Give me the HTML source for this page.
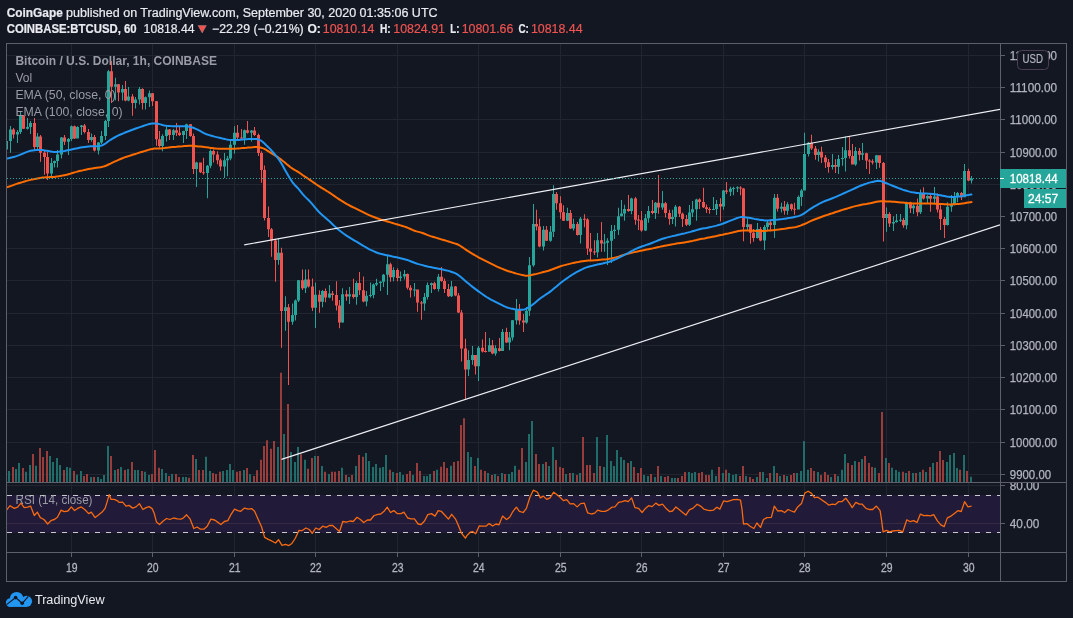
<!DOCTYPE html>
<html><head><meta charset="utf-8"><title>BTCUSD chart</title>
<style>html,body{margin:0;padding:0;background:#131722;width:1073px;height:618px;overflow:hidden}svg text{white-space:pre}</style>
</head><body>
<svg width="1073" height="618" viewBox="0 0 1073 618" style="display:block"><defs><clipPath id="main"><rect x="7" y="44" width="993" height="438"/></clipPath><clipPath id="rsip"><rect x="7" y="483" width="993" height="69"/></clipPath><clipPath id="rsiax"><rect x="1001" y="483" width="65" height="69"/></clipPath><clipPath id="mainax"><rect x="1001" y="44" width="65" height="438"/></clipPath></defs><rect width="1073" height="618" fill="#131722"/><path d="M7 474.5H1000 M7 442.5H1000 M7 409.5H1000 M7 377.5H1000 M7 345.5H1000 M7 313.5H1000 M7 280.5H1000 M7 248.5H1000 M7 216.5H1000 M7 184.5H1000 M7 152.5H1000 M7 119.5H1000 M7 87.5H1000 M7 55.5H1000 M71.5 44V552 M152.5 44V552 M234.5 44V552 M315.5 44V552 M397.5 44V552 M478.5 44V552 M560.5 44V552 M641.5 44V552 M723.5 44V552 M804.5 44V552 M886.5 44V552 M968.5 44V552 M7 485.5H1000 M7 523.5H1000" stroke="#21252f" stroke-width="1" fill="none"/><rect x="7" y="495" width="993" height="38" fill="#211a38"/><path d="M7 523.5H1000" stroke="#3a2a40" stroke-width="1"/><path d="M7 495.5H1000M7 532.5H1000" stroke="#c8cad0" stroke-width="1" stroke-dasharray="5 6" fill="none"/><g clip-path="url(#main)"><path d="M5 482h2v-6.0h-2zM8 482h2v-11.0h-2zM15 482h2v-13.1h-2zM18 482h2v-19.1h-2zM25 482h2v-10.2h-2zM29 482h2v-17.0h-2zM35 482h2v-16.2h-2zM49 482h2v-26.0h-2zM52 482h2v-19.9h-2zM56 482h2v-23.9h-2zM59 482h2v-17.0h-2zM66 482h2v-14.9h-2zM69 482h2v-14.2h-2zM76 482h2v-7.3h-2zM80 482h2v-11.0h-2zM90 482h2v-5.0h-2zM97 482h2v-5.0h-2zM100 482h2v-3.1h-2zM103 482h2v-7.1h-2zM107 482h2v-35.9h-2zM114 482h2v-12.0h-2zM120 482h2v-14.9h-2zM127 482h2v-13.1h-2zM134 482h2v-12.0h-2zM137 482h2v-12.0h-2zM144 482h2v-10.2h-2zM148 482h2v-7.1h-2zM161 482h2v-13.1h-2zM165 482h2v-9.1h-2zM171 482h2v-8.1h-2zM182 482h2v-5.0h-2zM185 482h2v-5.0h-2zM195 482h2v-23.1h-2zM205 482h2v-25.2h-2zM209 482h2v-11.0h-2zM222 482h2v-11.0h-2zM226 482h2v-12.0h-2zM229 482h2v-18.0h-2zM232 482h2v-12.0h-2zM243 482h2v-12.1h-2zM249 482h2v-7.7h-2zM277 482h2v-35.0h-2zM283 482h2v-47.9h-2zM290 482h2v-30.0h-2zM294 482h2v-20.1h-2zM297 482h2v-35.0h-2zM304 482h2v-22.2h-2zM314 482h2v-26.0h-2zM321 482h2v-16.0h-2zM328 482h2v-8.1h-2zM341 482h2v-14.2h-2zM348 482h2v-5.0h-2zM355 482h2v-16.0h-2zM365 482h2v-29.1h-2zM368 482h2v-21.0h-2zM372 482h2v-15.0h-2zM375 482h2v-18.0h-2zM379 482h2v-14.2h-2zM382 482h2v-15.0h-2zM385 482h2v-27.1h-2zM392 482h2v-10.1h-2zM399 482h2v-10.1h-2zM402 482h2v-7.1h-2zM412 482h2v-7.1h-2zM423 482h2v-6.1h-2zM426 482h2v-6.1h-2zM429 482h2v-8.0h-2zM436 482h2v-12.2h-2zM450 482h2v-16.2h-2zM467 482h2v-29.9h-2zM470 482h2v-24.9h-2zM477 482h2v-24.1h-2zM487 482h2v-9.1h-2zM494 482h2v-8.0h-2zM501 482h2v-9.1h-2zM508 482h2v-8.0h-2zM511 482h2v-10.1h-2zM514 482h2v-16.2h-2zM525 482h2v-20.1h-2zM528 482h2v-48.1h-2zM531 482h2v-61.1h-2zM542 482h2v-18.0h-2zM548 482h2v-15.9h-2zM552 482h2v-35.0h-2zM565 482h2v-8.0h-2zM572 482h2v-9.1h-2zM579 482h2v-9.1h-2zM596 482h2v-45.1h-2zM603 482h2v-15.0h-2zM606 482h2v-46.9h-2zM610 482h2v-21.0h-2zM613 482h2v-15.9h-2zM616 482h2v-32.0h-2zM620 482h2v-24.9h-2zM623 482h2v-22.0h-2zM630 482h2v-21.0h-2zM643 482h2v-7.1h-2zM647 482h2v-6.1h-2zM654 482h2v-5.0h-2zM660 482h2v-6.1h-2zM671 482h2v-4.0h-2zM674 482h2v-4.0h-2zM688 482h2v-10.1h-2zM691 482h2v-9.1h-2zM694 482h2v-10.1h-2zM711 482h2v-12.2h-2zM715 482h2v-6.1h-2zM722 482h2v-9.1h-2zM728 482h2v-9.1h-2zM732 482h2v-7.1h-2zM735 482h2v-8.0h-2zM745 482h2v-6.1h-2zM756 482h2v-5.0h-2zM762 482h2v-10.1h-2zM766 482h2v-4.0h-2zM773 482h2v-15.9h-2zM779 482h2v-6.1h-2zM786 482h2v-6.1h-2zM796 482h2v-9.1h-2zM800 482h2v-11.1h-2zM803 482h2v-41.1h-2zM807 482h2v-12.2h-2zM817 482h2v-10.1h-2zM830 482h2v-5.0h-2zM837 482h2v-6.1h-2zM841 482h2v-12.2h-2zM844 482h2v-28.1h-2zM854 482h2v-21.1h-2zM861 482h2v-23.1h-2zM874 482h2v-14.2h-2zM885 482h2v-24.0h-2zM891 482h2v-14.2h-2zM895 482h2v-12.1h-2zM898 482h2v-10.2h-2zM905 482h2v-9.1h-2zM912 482h2v-9.1h-2zM919 482h2v-10.1h-2zM925 482h2v-10.1h-2zM932 482h2v-19.0h-2zM946 482h2v-20.1h-2zM949 482h2v-27.1h-2zM953 482h2v-28.9h-2zM956 482h2v-14.0h-2zM963 482h2v-27.1h-2zM970 482h2v-5.3h-2z" fill="#1f6c68"/><path d="M12 482h2v-14.9h-2zM22 482h2v-14.0h-2zM32 482h2v-28.0h-2zM39 482h2v-34.1h-2zM42 482h2v-25.0h-2zM46 482h2v-31.0h-2zM63 482h2v-12.0h-2zM73 482h2v-11.0h-2zM83 482h2v-6.1h-2zM86 482h2v-8.1h-2zM93 482h2v-5.0h-2zM110 482h2v-26.0h-2zM117 482h2v-13.1h-2zM124 482h2v-12.0h-2zM131 482h2v-19.9h-2zM141 482h2v-11.0h-2zM151 482h2v-8.1h-2zM154 482h2v-32.0h-2zM158 482h2v-14.2h-2zM168 482h2v-6.1h-2zM175 482h2v-8.1h-2zM178 482h2v-5.0h-2zM188 482h2v-4.2h-2zM192 482h2v-27.1h-2zM198 482h2v-12.0h-2zM202 482h2v-12.0h-2zM212 482h2v-9.1h-2zM215 482h2v-8.1h-2zM219 482h2v-10.2h-2zM236 482h2v-10.2h-2zM239 482h2v-10.9h-2zM246 482h2v-13.9h-2zM253 482h2v-6.1h-2zM256 482h2v-11.8h-2zM260 482h2v-22.2h-2zM263 482h2v-35.9h-2zM266 482h2v-41.8h-2zM270 482h2v-33.2h-2zM273 482h2v-41.0h-2zM280 482h2v-109.2h-2zM287 482h2v-77.9h-2zM300 482h2v-27.7h-2zM307 482h2v-13.2h-2zM311 482h2v-24.0h-2zM317 482h2v-26.0h-2zM324 482h2v-10.2h-2zM331 482h2v-10.2h-2zM334 482h2v-10.2h-2zM338 482h2v-11.0h-2zM345 482h2v-7.1h-2zM351 482h2v-7.1h-2zM358 482h2v-27.1h-2zM362 482h2v-25.2h-2zM389 482h2v-12.2h-2zM396 482h2v-9.1h-2zM406 482h2v-8.0h-2zM409 482h2v-11.1h-2zM416 482h2v-19.0h-2zM419 482h2v-11.1h-2zM433 482h2v-11.1h-2zM440 482h2v-15.2h-2zM443 482h2v-20.1h-2zM446 482h2v-14.1h-2zM453 482h2v-20.1h-2zM457 482h2v-21.0h-2zM460 482h2v-57.1h-2zM463 482h2v-63.7h-2zM474 482h2v-15.9h-2zM480 482h2v-12.2h-2zM484 482h2v-11.1h-2zM491 482h2v-7.1h-2zM497 482h2v-6.1h-2zM504 482h2v-8.0h-2zM518 482h2v-12.2h-2zM521 482h2v-34.0h-2zM535 482h2v-28.1h-2zM538 482h2v-18.0h-2zM545 482h2v-20.1h-2zM555 482h2v-22.0h-2zM559 482h2v-15.0h-2zM562 482h2v-14.0h-2zM569 482h2v-9.1h-2zM576 482h2v-7.1h-2zM582 482h2v-45.0h-2zM586 482h2v-17.0h-2zM589 482h2v-17.0h-2zM593 482h2v-9.1h-2zM599 482h2v-15.9h-2zM627 482h2v-19.0h-2zM633 482h2v-15.0h-2zM637 482h2v-9.1h-2zM640 482h2v-14.0h-2zM650 482h2v-8.0h-2zM657 482h2v-15.9h-2zM664 482h2v-5.0h-2zM667 482h2v-6.1h-2zM677 482h2v-4.0h-2zM681 482h2v-6.1h-2zM684 482h2v-10.1h-2zM698 482h2v-9.1h-2zM701 482h2v-10.1h-2zM705 482h2v-7.1h-2zM708 482h2v-7.1h-2zM718 482h2v-15.0h-2zM725 482h2v-12.2h-2zM739 482h2v-6.1h-2zM742 482h2v-15.9h-2zM749 482h2v-5.0h-2zM752 482h2v-3.1h-2zM759 482h2v-10.1h-2zM769 482h2v-9.1h-2zM776 482h2v-9.1h-2zM783 482h2v-7.1h-2zM790 482h2v-7.1h-2zM793 482h2v-9.1h-2zM810 482h2v-14.0h-2zM813 482h2v-11.1h-2zM820 482h2v-7.1h-2zM824 482h2v-10.1h-2zM827 482h2v-7.1h-2zM834 482h2v-8.0h-2zM847 482h2v-19.0h-2zM851 482h2v-17.1h-2zM858 482h2v-20.1h-2zM864 482h2v-26.0h-2zM868 482h2v-19.0h-2zM871 482h2v-15.0h-2zM878 482h2v-9.1h-2zM881 482h2v-70.0h-2zM888 482h2v-19.0h-2zM902 482h2v-10.2h-2zM908 482h2v-10.9h-2zM915 482h2v-9.1h-2zM922 482h2v-12.2h-2zM929 482h2v-15.0h-2zM936 482h2v-20.1h-2zM939 482h2v-31.0h-2zM942 482h2v-22.0h-2zM959 482h2v-12.2h-2zM966 482h2v-11.1h-2z" fill="#993d3c"/></g><g clip-path="url(#main)"><path d="M6 139.0h1V150.0h-1zM10 126.0h1V152.7h-1zM17 130.0h1V143.0h-1zM20 111.0h1V134.0h-1zM27 118.0h1V129.4h-1zM30 121.0h1V134.0h-1zM37 133.0h1V149.0h-1zM51 158.0h1V178.6h-1zM54 160.5h1V167.6h-1zM57 150.0h1V167.6h-1zM61 137.0h1V158.5h-1zM68 138.0h1V155.0h-1zM71 125.5h1V141.0h-1zM77 126.3h1V138.4h-1zM81 125.0h1V135.0h-1zM91 133.6h1V141.7h-1zM98 142.0h1V154.6h-1zM101 131.0h1V144.0h-1zM105 120.0h1V140.0h-1zM108 70.0h1V127.0h-1zM115 77.8h1V100.5h-1zM122 85.0h1V100.5h-1zM128 87.0h1V101.3h-1zM135 97.0h1V108.5h-1zM139 87.0h1V104.5h-1zM145 96.4h1V109.4h-1zM149 90.4h1V107.0h-1zM162 134.3h1V151.3h-1zM166 126.2h1V141.6h-1zM173 129.0h1V140.0h-1zM183 130.7h1V143.0h-1zM186 123.8h1V139.0h-1zM196 161.8h1V186.9h-1zM207 165.0h1V198.2h-1zM210 149.6h1V168.3h-1zM224 152.9h1V178.0h-1zM227 156.0h1V176.3h-1zM230 140.7h1V160.2h-1zM234 126.2h1V153.7h-1zM244 129.4h1V144.8h-1zM251 130.0h1V141.6h-1zM278 238.9h1V264.8h-1zM285 296.3h1V330.7h-1zM292 303.6h1V324.7h-1zM295 299.6h1V320.6h-1zM298 280.0h1V302.0h-1zM305 269.6h1V293.1h-1zM315 282.6h1V327.9h-1zM322 290.0h1V307.2h-1zM329 285.0h1V298.3h-1zM342 288.2h1V322.8h-1zM349 287.0h1V304.0h-1zM356 281.3h1V304.7h-1zM366 291.0h1V306.3h-1zM370 282.4h1V297.4h-1zM373 283.4h1V298.3h-1zM376 278.8h1V286.1h-1zM380 281.3h1V291.0h-1zM383 274.0h1V286.9h-1zM387 254.6h1V295.0h-1zM393 267.2h1V281.3h-1zM400 271.6h1V281.3h-1zM404 270.0h1V279.6h-1zM414 282.9h1V296.6h-1zM424 293.0h1V310.8h-1zM427 282.5h1V299.5h-1zM431 282.5h1V293.0h-1zM438 274.0h1V291.4h-1zM451 280.9h1V297.1h-1zM468 350.2h1V376.0h-1zM472 346.0h1V364.7h-1zM478 346.0h1V380.9h-1zM489 338.0h1V351.8h-1zM495 345.3h1V355.8h-1zM502 329.0h1V351.0h-1zM509 332.0h1V350.2h-1zM512 320.0h1V340.5h-1zM516 298.9h1V324.4h-1zM526 307.0h1V323.7h-1zM529 257.1h1V316.0h-1zM533 204.0h1V266.8h-1zM543 226.0h1V250.5h-1zM550 226.0h1V241.8h-1zM553 185.2h1V237.0h-1zM567 207.8h1V221.1h-1zM573 218.8h1V230.5h-1zM580 216.9h1V243.4h-1zM597 233.0h1V257.6h-1zM604 234.0h1V251.8h-1zM607 238.2h1V265.0h-1zM611 225.0h1V263.0h-1zM614 225.0h1V238.9h-1zM618 207.8h1V235.0h-1zM621 200.0h1V216.5h-1zM624 204.8h1V220.8h-1zM631 197.8h1V214.3h-1zM645 214.1h1V231.1h-1zM648 205.9h1V222.7h-1zM655 202.0h1V218.9h-1zM662 191.0h1V209.8h-1zM672 209.8h1V224.0h-1zM675 205.0h1V226.6h-1zM689 205.0h1V226.0h-1zM692 201.1h1V217.0h-1zM696 198.8h1V220.8h-1zM713 196.9h1V210.0h-1zM716 200.1h1V215.0h-1zM723 190.0h1V209.8h-1zM730 186.8h1V195.9h-1zM733 186.8h1V195.2h-1zM737 186.2h1V192.0h-1zM747 218.5h1V230.8h-1zM757 223.0h1V238.6h-1zM764 225.0h1V250.0h-1zM767 221.1h1V230.8h-1zM774 193.9h1V237.9h-1zM781 202.7h1V212.4h-1zM787 202.3h1V214.8h-1zM798 195.4h1V209.6h-1zM801 188.9h1V205.9h-1zM804 132.8h1V190.5h-1zM808 142.0h1V156.6h-1zM818 149.3h1V161.4h-1zM832 154.1h1V169.6h-1zM838 155.0h1V173.9h-1zM842 147.0h1V165.7h-1zM845 136.4h1V171.6h-1zM855 147.0h1V165.7h-1zM862 143.1h1V160.0h-1zM876 155.0h1V169.0h-1zM886 207.4h1V231.7h-1zM893 216.3h1V230.9h-1zM896 213.9h1V222.8h-1zM900 213.9h1V222.0h-1zM906 201.8h1V229.3h-1zM913 204.2h1V213.9h-1zM920 189.6h1V213.9h-1zM927 195.3h1V203.4h-1zM934 187.0h1V203.8h-1zM947 202.3h1V225.6h-1zM951 195.0h1V211.8h-1zM954 192.1h1V205.2h-1zM957 192.1h1V202.3h-1zM964 164.0h1V197.2h-1zM971 176.1h1V183.4h-1zM5 141.0h3V149.5h-3zM9 129.4h3V141.0h-3zM16 132.0h3V134.6h-3zM19 115.8h3V132.0h-3zM26 127.0h3V128.8h-3zM29 123.0h3V127.0h-3zM36 136.5h3V147.0h-3zM50 163.0h3V173.4h-3zM53 161.0h3V163.0h-3zM56 154.6h3V161.0h-3zM60 137.6h3V154.6h-3zM67 139.0h3V141.7h-3zM70 126.3h3V139.0h-3zM76 127.0h3V138.4h-3zM80 125.5h3V127.0h-3zM90 137.0h3V140.0h-3zM97 142.5h3V150.6h-3zM100 136.0h3V142.5h-3zM104 121.0h3V136.0h-3zM107 71.3h3V121.0h-3zM114 84.3h3V86.7h-3zM121 89.0h3V92.4h-3zM127 96.4h3V100.5h-3zM134 99.6h3V102.9h-3zM138 89.0h3V99.6h-3zM144 97.2h3V102.9h-3zM148 93.2h3V97.2h-3zM161 135.9h3V146.0h-3zM165 129.4h3V135.9h-3zM172 130.2h3V135.0h-3zM182 131.0h3V135.0h-3zM185 124.2h3V131.0h-3zM195 162.6h3V169.0h-3zM206 165.8h3V173.0h-3zM209 151.0h3V165.8h-3zM223 160.2h3V166.6h-3zM226 158.5h3V160.2h-3zM229 144.8h3V158.5h-3zM233 132.7h3V144.8h-3zM243 130.2h3V138.3h-3zM250 130.5h3V132.7h-3zM277 252.7h3V259.9h-3zM284 307.3h3V310.9h-3zM291 315.0h3V321.8h-3zM294 300.4h3V315.0h-3zM297 280.2h3V300.4h-3zM304 279.4h3V288.3h-3zM314 294.7h3V307.7h-3zM321 291.0h3V301.8h-3zM328 293.4h3V297.4h-3zM341 294.2h3V322.5h-3zM348 294.2h3V296.6h-3zM355 282.9h3V297.0h-3zM365 295.8h3V301.5h-3zM369 294.9h3V295.9h-3zM372 284.5h3V295.0h-3zM375 282.9h3V284.5h-3zM379 281.7h3V282.9h-3zM382 274.8h3V281.7h-3zM386 264.3h3V274.8h-3zM392 270.0h3V277.2h-3zM399 276.4h3V278.0h-3zM403 274.0h3V276.4h-3zM413 289.4h3V290.4h-3zM423 297.0h3V303.5h-3zM426 285.0h3V297.0h-3zM430 283.3h3V285.0h-3zM437 276.8h3V289.0h-3zM450 286.6h3V296.3h-3zM467 359.9h3V369.6h-3zM471 355.0h3V359.9h-3zM477 347.7h3V366.3h-3zM488 345.3h3V351.8h-3zM494 348.2h3V353.4h-3zM501 332.0h3V351.0h-3zM508 337.5h3V342.4h-3zM511 320.2h3V337.5h-3zM515 308.9h3V320.2h-3zM525 310.8h3V322.4h-3zM528 265.3h3V310.8h-3zM532 224.0h3V265.3h-3zM542 229.8h3V246.6h-3zM549 231.7h3V240.8h-3zM552 194.0h3V231.7h-3zM566 213.0h3V220.8h-3zM572 224.0h3V228.5h-3zM579 218.8h3V235.0h-3zM596 240.2h3V252.3h-3zM603 242.6h3V243.6h-3zM606 240.8h3V242.7h-3zM610 231.1h3V240.8h-3zM613 229.8h3V231.1h-3zM617 216.2h3V229.8h-3zM620 213.4h3V216.2h-3zM623 209.1h3V213.4h-3zM630 198.6h3V211.0h-3zM644 218.2h3V230.5h-3zM647 211.1h3V218.2h-3zM654 202.7h3V213.0h-3zM661 203.3h3V207.6h-3zM671 216.9h3V218.9h-3zM674 206.8h3V216.9h-3zM688 212.4h3V224.7h-3zM691 209.2h3V212.4h-3zM695 199.5h3V209.2h-3zM712 208.9h3V209.9h-3zM715 204.0h3V209.0h-3zM722 190.4h3V206.6h-3zM729 188.8h3V191.7h-3zM732 187.9h3V188.9h-3zM736 187.2h3V188.2h-3zM746 224.3h3V226.9h-3zM756 228.9h3V237.9h-3zM763 226.9h3V240.5h-3zM766 222.4h3V226.9h-3zM773 197.8h3V225.0h-3zM780 206.7h3V208.8h-3zM786 204.3h3V210.8h-3zM797 197.0h3V209.6h-3zM800 190.5h3V197.0h-3zM803 154.1h3V190.5h-3zM807 142.8h3V154.1h-3zM817 151.7h3V154.9h-3zM831 165.1h3V167.1h-3zM837 158.9h3V166.7h-3zM841 157.9h3V158.9h-3zM844 150.2h3V158.0h-3zM854 150.9h3V164.5h-3zM861 153.2h3V154.8h-3zM875 155.2h3V162.5h-3zM885 213.9h3V218.0h-3zM892 222.0h3V223.6h-3zM895 220.4h3V222.0h-3zM899 219.7h3V220.7h-3zM905 202.6h3V225.2h-3zM912 205.8h3V208.3h-3zM919 193.7h3V212.3h-3zM926 196.1h3V198.5h-3zM933 196.5h3V198.7h-3zM946 206.7h3V224.9h-3zM950 204.5h3V206.7h-3zM953 196.5h3V204.5h-3zM956 193.1h3V196.5h-3zM963 171.0h3V197.2h-3zM970 178.6h3V180.5h-3z" fill="#26a69a"/><path d="M13 128.0h1V138.5h-1zM23 115.0h1V129.0h-1zM34 118.0h1V150.7h-1zM40 135.0h1V161.7h-1zM44 151.0h1V174.7h-1zM47 152.0h1V180.0h-1zM64 135.0h1V145.0h-1zM74 125.5h1V139.0h-1zM84 124.0h1V133.6h-1zM88 129.0h1V143.0h-1zM94 135.0h1V151.4h-1zM111 61.0h1V102.9h-1zM118 84.0h1V101.3h-1zM125 81.0h1V101.3h-1zM132 94.0h1V115.8h-1zM142 88.3h1V109.4h-1zM152 93.0h1V106.0h-1zM156 101.0h1V145.8h-1zM159 131.0h1V147.4h-1zM169 129.0h1V140.0h-1zM176 123.0h1V136.0h-1zM179 127.0h1V136.0h-1zM190 124.0h1V136.7h-1zM193 133.5h1V174.0h-1zM200 162.6h1V173.0h-1zM203 157.7h1V174.7h-1zM213 149.6h1V162.6h-1zM217 151.3h1V164.2h-1zM220 158.5h1V170.7h-1zM237 124.9h1V139.1h-1zM241 129.0h1V139.1h-1zM247 121.0h1V133.5h-1zM254 127.0h1V136.0h-1zM258 133.5h1V156.0h-1zM261 151.3h1V182.8h-1zM264 165.4h1V220.4h-1zM268 206.6h1V237.0h-1zM271 228.0h1V256.7h-1zM275 239.0h1V281.8h-1zM281 247.8h1V347.7h-1zM288 304.0h1V385.0h-1zM302 269.6h1V289.9h-1zM308 269.6h1V287.4h-1zM312 278.5h1V310.9h-1zM319 290.2h1V312.8h-1zM325 288.5h1V302.3h-1zM332 291.0h1V300.7h-1zM336 281.3h1V310.4h-1zM339 299.9h1V328.2h-1zM346 290.2h1V300.7h-1zM353 278.8h1V298.6h-1zM359 272.0h1V295.0h-1zM363 276.4h1V302.3h-1zM390 262.7h1V281.7h-1zM397 268.3h1V281.3h-1zM407 273.6h1V289.4h-1zM410 285.3h1V297.4h-1zM417 289.4h1V311.8h-1zM421 301.0h1V319.7h-1zM434 281.7h1V289.8h-1zM441 267.1h1V281.7h-1zM444 278.5h1V293.0h-1zM448 284.1h1V297.1h-1zM455 286.0h1V296.3h-1zM458 293.0h1V313.0h-1zM461 310.0h1V361.5h-1zM465 338.8h1V399.5h-1zM475 355.0h1V374.4h-1zM482 339.6h1V352.6h-1zM485 332.0h1V352.4h-1zM492 340.0h1V354.2h-1zM499 338.0h1V351.5h-1zM506 327.8h1V342.9h-1zM519 304.0h1V324.8h-1zM523 314.0h1V332.0h-1zM536 209.8h1V230.5h-1zM539 218.8h1V247.3h-1zM546 226.0h1V241.0h-1zM556 191.9h1V209.8h-1zM560 196.2h1V218.8h-1zM563 205.2h1V221.1h-1zM570 210.0h1V228.9h-1zM577 222.0h1V235.6h-1zM584 214.3h1V227.2h-1zM587 218.2h1V255.0h-1zM590 233.0h1V261.3h-1zM594 240.2h1V255.0h-1zM601 222.0h1V251.8h-1zM628 194.9h1V211.7h-1zM635 196.9h1V224.7h-1zM638 215.0h1V229.9h-1zM641 211.1h1V231.8h-1zM652 200.1h1V214.3h-1zM658 174.9h1V213.7h-1zM665 202.0h1V217.6h-1zM669 209.8h1V224.7h-1zM679 205.9h1V216.9h-1zM682 212.4h1V227.0h-1zM686 215.0h1V226.0h-1zM699 198.2h1V208.9h-1zM703 187.8h1V207.9h-1zM706 204.6h1V213.0h-1zM709 207.2h1V213.7h-1zM720 198.2h1V221.4h-1zM726 182.0h1V193.9h-1zM740 186.2h1V195.2h-1zM743 188.0h1V241.2h-1zM750 224.3h1V243.7h-1zM753 228.9h1V241.8h-1zM760 226.9h1V241.2h-1zM770 219.2h1V230.2h-1zM777 193.9h1V211.4h-1zM784 201.0h1V214.8h-1zM791 203.5h1V210.8h-1zM794 202.7h1V214.8h-1zM811 134.7h1V150.1h-1zM815 146.0h1V159.8h-1zM821 146.8h1V163.0h-1zM825 155.0h1V167.9h-1zM828 159.0h1V172.7h-1zM835 159.3h1V172.9h-1zM849 136.0h1V158.6h-1zM852 144.1h1V164.5h-1zM859 148.0h1V160.6h-1zM866 152.8h1V169.0h-1zM869 159.3h1V173.9h-1zM872 159.3h1V164.5h-1zM879 155.2h1V167.8h-1zM883 162.1h1V241.4h-1zM889 212.3h1V226.9h-1zM903 218.0h1V227.7h-1zM910 201.8h1V213.1h-1zM917 198.5h1V216.3h-1zM923 187.2h1V199.4h-1zM930 194.3h1V211.8h-1zM937 193.6h1V212.5h-1zM940 205.2h1V230.0h-1zM944 216.9h1V238.0h-1zM961 192.1h1V200.1h-1zM968 168.8h1V181.2h-1zM12 129.4h3V134.6h-3zM22 115.8h3V128.8h-3zM33 123.0h3V147.0h-3zM39 136.5h3V152.7h-3zM43 152.7h3V157.0h-3zM46 157.0h3V173.4h-3zM63 137.6h3V141.7h-3zM73 126.3h3V138.4h-3zM83 125.5h3V132.0h-3zM87 132.0h3V140.0h-3zM93 137.0h3V150.6h-3zM110 71.3h3V86.7h-3zM117 84.3h3V92.4h-3zM124 89.0h3V100.5h-3zM131 96.4h3V102.9h-3zM141 89.0h3V102.9h-3zM151 93.2h3V101.3h-3zM155 101.3h3V139.3h-3zM158 139.3h3V146.0h-3zM168 129.4h3V135.0h-3zM175 130.2h3V132.7h-3zM178 132.7h3V135.0h-3zM189 124.2h3V135.9h-3zM192 135.9h3V169.0h-3zM199 162.6h3V172.3h-3zM202 172.2h3V173.2h-3zM212 151.0h3V154.5h-3zM216 154.5h3V160.2h-3zM219 160.2h3V166.6h-3zM236 132.7h3V137.5h-3zM240 137.4h3V138.4h-3zM246 130.2h3V132.7h-3zM253 130.5h3V135.0h-3zM257 135.0h3V152.9h-3zM260 152.9h3V169.9h-3zM263 169.9h3V218.0h-3zM267 218.0h3V229.3h-3zM270 229.3h3V240.5h-3zM274 240.5h3V259.9h-3zM280 252.7h3V310.9h-3zM287 307.3h3V321.8h-3zM301 280.2h3V288.3h-3zM307 279.4h3V286.6h-3zM311 286.6h3V307.7h-3zM318 294.7h3V301.8h-3zM324 291.0h3V297.4h-3zM331 293.4h3V295.0h-3zM335 295.0h3V305.5h-3zM338 305.5h3V322.5h-3zM345 294.2h3V296.6h-3zM352 294.2h3V297.0h-3zM358 282.9h3V290.2h-3zM362 290.2h3V301.5h-3zM389 264.3h3V277.2h-3zM396 270.0h3V278.0h-3zM406 274.0h3V287.7h-3zM409 287.7h3V290.2h-3zM416 289.5h3V302.5h-3zM420 302.5h3V303.5h-3zM433 283.3h3V289.0h-3zM440 276.8h3V280.9h-3zM443 280.9h3V289.0h-3zM447 289.0h3V296.3h-3zM454 286.6h3V295.5h-3zM457 295.5h3V312.4h-3zM460 312.4h3V348.5h-3zM464 348.5h3V369.6h-3zM474 355.0h3V366.3h-3zM481 347.7h3V351.5h-3zM484 351.1h3V352.1h-3zM491 345.3h3V353.4h-3zM498 348.2h3V351.0h-3zM505 332.0h3V342.4h-3zM518 308.9h3V320.5h-3zM522 320.5h3V322.4h-3zM535 224.0h3V226.6h-3zM538 226.6h3V246.6h-3zM545 229.8h3V240.8h-3zM555 194.0h3V203.3h-3zM559 203.3h3V212.3h-3zM562 212.3h3V220.8h-3zM569 213.0h3V228.5h-3zM576 224.0h3V235.0h-3zM583 218.7h3V219.7h-3zM586 219.5h3V248.6h-3zM589 248.6h3V251.8h-3zM593 251.6h3V252.6h-3zM600 240.2h3V243.4h-3zM627 209.1h3V211.0h-3zM634 198.6h3V219.8h-3zM637 219.5h3V220.5h-3zM640 220.2h3V230.5h-3zM651 211.1h3V213.0h-3zM657 202.7h3V207.6h-3zM664 203.3h3V213.0h-3zM668 213.0h3V218.9h-3zM678 206.8h3V213.7h-3zM681 213.7h3V218.9h-3zM685 218.9h3V224.7h-3zM698 199.5h3V202.0h-3zM702 202.0h3V207.2h-3zM705 207.2h3V208.9h-3zM708 208.9h3V209.9h-3zM719 204.0h3V206.6h-3zM725 190.4h3V191.7h-3zM739 187.6h3V188.6h-3zM742 188.5h3V226.9h-3zM749 224.3h3V232.7h-3zM752 232.7h3V237.9h-3zM759 228.9h3V240.5h-3zM769 222.4h3V225.0h-3zM776 197.8h3V208.8h-3zM783 206.7h3V210.8h-3zM790 204.3h3V209.1h-3zM793 208.8h3V209.8h-3zM810 142.8h3V148.5h-3zM814 148.5h3V154.9h-3zM820 151.7h3V157.4h-3zM824 157.4h3V162.2h-3zM827 162.2h3V167.1h-3zM834 165.1h3V166.7h-3zM848 150.2h3V156.0h-3zM851 156.0h3V164.5h-3zM858 150.9h3V154.8h-3zM865 153.2h3V160.6h-3zM868 160.4h3V161.4h-3zM871 161.2h3V162.5h-3zM878 155.2h3V163.0h-3zM882 163.0h3V218.0h-3zM888 213.9h3V223.6h-3zM902 219.9h3V225.2h-3zM909 202.6h3V208.3h-3zM916 205.8h3V212.3h-3zM922 193.7h3V198.5h-3zM929 196.1h3V198.7h-3zM936 196.5h3V209.6h-3zM939 209.6h3V219.0h-3zM943 219.0h3V224.9h-3zM960 193.1h3V197.2h-3zM967 171.0h3V180.5h-3z" fill="#ef5350"/><polyline points="6.5,187.3 8.5,186.8 10.5,186.1 12.5,185.4 14.5,184.6 16.5,183.9 18.5,183.3 20.5,182.7 22.5,182.1 24.5,181.5 26.5,180.9 28.5,180.4 30.5,179.9 32.5,179.4 34.5,179.1 36.5,178.7 38.5,178.3 40.5,177.9 42.5,177.6 44.5,177.4 46.5,177.3 48.5,177.2 50.5,177.1 52.5,177.0 54.5,176.9 56.5,176.6 58.5,176.3 60.5,175.9 62.5,175.6 64.5,175.2 66.5,174.8 68.5,174.2 70.5,173.6 72.5,173.0 74.5,172.4 76.5,171.9 78.5,171.3 80.5,170.8 82.5,170.4 84.5,169.9 86.5,169.5 88.5,169.1 90.5,168.7 92.5,168.4 94.5,168.1 96.5,167.8 98.5,167.5 100.5,167.2 102.5,166.8 104.5,166.3 106.5,165.5 108.5,164.5 110.5,163.6 112.5,162.6 114.5,161.7 116.5,160.8 118.5,159.9 120.5,159.0 122.5,158.2 124.5,157.4 126.5,156.8 128.5,156.1 130.5,155.5 132.5,154.8 134.5,154.2 136.5,153.6 138.5,152.9 140.5,152.3 142.5,151.7 144.5,151.1 146.5,150.5 148.5,149.9 150.5,149.3 152.5,148.9 154.5,148.6 156.5,148.5 158.5,148.4 160.5,148.4 162.5,148.2 164.5,148.1 166.5,147.8 168.5,147.6 170.5,147.3 172.5,147.1 174.5,146.9 176.5,146.8 178.5,146.6 180.5,146.4 182.5,146.3 184.5,146.1 186.5,145.9 188.5,145.8 190.5,145.7 192.5,145.8 194.5,146.0 196.5,146.2 198.5,146.4 200.5,146.6 202.5,146.8 204.5,147.1 206.5,147.3 208.5,147.6 210.5,147.9 212.5,148.1 214.5,148.4 216.5,148.6 218.5,148.7 220.5,148.7 222.5,148.8 224.5,148.8 226.5,148.8 228.5,148.8 230.5,148.8 232.5,148.8 234.5,148.7 236.5,148.6 238.5,148.4 240.5,148.3 242.5,148.1 244.5,147.9 246.5,147.8 248.5,147.6 250.5,147.4 252.5,147.3 254.5,147.1 256.5,147.1 258.5,147.2 260.5,147.5 262.5,148.1 264.5,148.9 266.5,150.1 268.5,151.4 270.5,152.6 272.5,153.9 274.5,155.1 276.5,156.4 278.5,157.7 280.5,159.1 282.5,160.7 284.5,162.3 286.5,164.0 288.5,165.6 290.5,167.2 292.5,168.6 294.5,169.8 296.5,171.0 298.5,172.1 300.5,173.5 302.5,175.0 304.5,176.4 306.5,177.7 308.5,179.0 310.5,180.3 312.5,181.7 314.5,183.1 316.5,184.5 318.5,185.8 320.5,187.1 322.5,188.4 324.5,189.5 326.5,190.8 328.5,192.0 330.5,193.3 332.5,194.7 334.5,196.1 336.5,197.5 338.5,198.8 340.5,200.1 342.5,201.3 344.5,202.6 346.5,203.8 348.5,204.9 350.5,206.0 352.5,207.0 354.5,207.9 356.5,208.9 358.5,209.9 360.5,210.9 362.5,211.9 364.5,212.9 366.5,213.9 368.5,214.8 370.5,215.7 372.5,216.5 374.5,217.2 376.5,218.0 378.5,218.7 380.5,219.4 382.5,220.0 384.5,220.6 386.5,221.2 388.5,221.8 390.5,222.4 392.5,223.0 394.5,223.6 396.5,224.2 398.5,224.8 400.5,225.4 402.5,226.0 404.5,226.6 406.5,227.3 408.5,228.1 410.5,229.0 412.5,229.9 414.5,230.7 416.5,231.4 418.5,231.9 420.5,232.4 422.5,233.0 424.5,233.8 426.5,234.6 428.5,235.4 430.5,236.1 432.5,236.7 434.5,237.3 436.5,237.9 438.5,238.5 440.5,239.1 442.5,239.7 444.5,240.3 446.5,240.9 448.5,241.5 450.5,242.1 452.5,242.8 454.5,243.4 456.5,244.0 458.5,244.8 460.5,246.0 462.5,247.3 464.5,248.7 466.5,250.1 468.5,251.4 470.5,252.7 472.5,253.9 474.5,255.0 476.5,256.2 478.5,257.3 480.5,258.4 482.5,259.4 484.5,260.4 486.5,261.4 488.5,262.4 490.5,263.4 492.5,264.4 494.5,265.4 496.5,266.4 498.5,267.3 500.5,268.1 502.5,268.9 504.5,269.7 506.5,270.5 508.5,271.2 510.5,271.8 512.5,272.4 514.5,273.0 516.5,273.6 518.5,274.1 520.5,274.6 522.5,275.1 524.5,275.5 526.5,275.8 528.5,275.6 530.5,275.3 532.5,274.8 534.5,274.3 536.5,273.9 538.5,273.4 540.5,272.9 542.5,272.3 544.5,271.8 546.5,271.3 548.5,270.7 550.5,270.0 552.5,269.3 554.5,268.5 556.5,267.8 558.5,267.0 560.5,266.3 562.5,265.6 564.5,265.1 566.5,264.6 568.5,264.1 570.5,263.6 572.5,263.1 574.5,262.7 576.5,262.3 578.5,262.0 580.5,261.6 582.5,261.2 584.5,260.9 586.5,260.7 588.5,260.6 590.5,260.5 592.5,260.4 594.5,260.3 596.5,260.2 598.5,260.0 600.5,259.8 602.5,259.6 604.5,259.4 606.5,259.2 608.5,258.9 610.5,258.6 612.5,258.1 614.5,257.7 616.5,257.2 618.5,256.6 620.5,255.9 622.5,255.3 624.5,254.6 626.5,254.1 628.5,253.6 630.5,253.1 632.5,252.6 634.5,252.1 636.5,251.7 638.5,251.2 640.5,250.8 642.5,250.4 644.5,250.0 646.5,249.6 648.5,249.2 650.5,248.8 652.5,248.4 654.5,247.9 656.5,247.5 658.5,247.1 660.5,246.6 662.5,246.2 664.5,245.8 666.5,245.4 668.5,245.1 670.5,244.7 672.5,244.3 674.5,244.0 676.5,243.6 678.5,243.3 680.5,243.0 682.5,242.7 684.5,242.4 686.5,242.1 688.5,241.7 690.5,241.3 692.5,240.9 694.5,240.4 696.5,240.0 698.5,239.5 700.5,239.1 702.5,238.7 704.5,238.4 706.5,238.0 708.5,237.6 710.5,237.2 712.5,236.8 714.5,236.4 716.5,236.0 718.5,235.5 720.5,235.1 722.5,234.7 724.5,234.2 726.5,233.8 728.5,233.4 730.5,232.9 732.5,232.5 734.5,232.0 736.5,231.5 738.5,231.1 740.5,230.8 742.5,230.6 744.5,230.6 746.5,230.6 748.5,230.6 750.5,230.7 752.5,230.7 754.5,230.8 756.5,230.9 758.5,230.9 760.5,230.9 762.5,230.9 764.5,230.9 766.5,230.8 768.5,230.6 770.5,230.4 772.5,230.2 774.5,230.0 776.5,229.7 778.5,229.5 780.5,229.2 782.5,228.9 784.5,228.7 786.5,228.4 788.5,228.1 790.5,227.8 792.5,227.6 794.5,227.3 796.5,226.9 798.5,226.3 800.5,225.6 802.5,224.8 804.5,224.0 806.5,223.1 808.5,222.1 810.5,221.2 812.5,220.3 814.5,219.5 816.5,218.7 818.5,218.0 820.5,217.2 822.5,216.5 824.5,215.8 826.5,215.1 828.5,214.5 830.5,213.8 832.5,213.2 834.5,212.5 836.5,211.8 838.5,211.2 840.5,210.5 842.5,209.9 844.5,209.3 846.5,208.7 848.5,208.1 850.5,207.5 852.5,206.9 854.5,206.4 856.5,205.9 858.5,205.4 860.5,205.0 862.5,204.6 864.5,204.3 866.5,204.0 868.5,203.6 870.5,203.2 872.5,202.8 874.5,202.3 876.5,201.8 878.5,201.4 880.5,201.2 882.5,201.2 884.5,201.3 886.5,201.4 888.5,201.5 890.5,201.6 892.5,201.7 894.5,201.8 896.5,202.0 898.5,202.2 900.5,202.4 902.5,202.6 904.5,202.8 906.5,203.0 908.5,203.2 910.5,203.3 912.5,203.4 914.5,203.4 916.5,203.4 918.5,203.4 920.5,203.4 922.5,203.4 924.5,203.4 926.5,203.4 928.5,203.4 930.5,203.5 932.5,203.5 934.5,203.7 936.5,203.8 938.5,203.9 940.5,204.0 942.5,204.1 944.5,204.2 946.5,204.3 948.5,204.4 950.5,204.4 952.5,204.3 954.5,204.2 956.5,204.1 958.5,203.9 960.5,203.8 962.5,203.5 964.5,203.2 966.5,202.8 968.5,202.5 970.5,202.2 971.5,202.1" fill="none" stroke="#ff6d00" stroke-width="2" stroke-linejoin="round" stroke-linecap="round"/><polyline points="6.5,158.6 8.5,158.2 10.5,157.7 12.5,157.2 14.5,156.7 16.5,156.1 18.5,155.4 20.5,154.6 22.5,153.8 24.5,152.9 26.5,152.1 28.5,151.4 30.5,150.8 32.5,150.4 34.5,150.2 36.5,150.0 38.5,149.9 40.5,150.0 42.5,150.1 44.5,150.4 46.5,150.7 48.5,151.0 50.5,151.4 52.5,151.8 54.5,152.0 56.5,152.0 58.5,151.8 60.5,151.5 62.5,151.2 64.5,150.9 66.5,150.5 68.5,150.1 70.5,149.7 72.5,149.2 74.5,148.8 76.5,148.4 78.5,148.0 80.5,147.6 82.5,147.3 84.5,147.0 86.5,146.7 88.5,146.5 90.5,146.3 92.5,146.3 94.5,146.3 96.5,146.3 98.5,146.1 100.5,145.7 102.5,145.2 104.5,144.2 106.5,142.8 108.5,141.2 110.5,139.8 112.5,138.6 114.5,137.5 116.5,136.4 118.5,135.4 120.5,134.5 122.5,133.7 124.5,132.8 126.5,132.0 128.5,131.3 130.5,130.5 132.5,129.7 134.5,129.0 136.5,128.3 138.5,127.6 140.5,126.9 142.5,126.2 144.5,125.5 146.5,124.9 148.5,124.3 150.5,123.8 152.5,123.4 154.5,123.4 156.5,123.6 158.5,123.9 160.5,124.4 162.5,125.0 164.5,125.4 166.5,125.7 168.5,125.9 170.5,126.1 172.5,126.2 174.5,126.2 176.5,126.2 178.5,126.2 180.5,126.2 182.5,126.2 184.5,126.2 186.5,126.3 188.5,126.5 190.5,127.0 192.5,127.5 194.5,128.3 196.5,129.2 198.5,130.2 200.5,131.2 202.5,132.3 204.5,133.4 206.5,134.3 208.5,134.9 210.5,135.5 212.5,136.0 214.5,136.6 216.5,137.1 218.5,137.6 220.5,138.0 222.5,138.5 224.5,138.9 226.5,139.4 228.5,139.7 230.5,139.9 232.5,140.0 234.5,140.0 236.5,140.0 238.5,139.9 240.5,139.7 242.5,139.5 244.5,139.3 246.5,139.2 248.5,139.1 250.5,139.0 252.5,138.9 254.5,138.9 256.5,139.0 258.5,139.4 260.5,140.3 262.5,141.7 264.5,143.5 266.5,145.5 268.5,147.4 270.5,149.4 272.5,151.6 274.5,154.0 276.5,156.4 278.5,159.0 280.5,162.0 282.5,165.3 284.5,168.9 286.5,172.4 288.5,175.9 290.5,179.3 292.5,182.3 294.5,184.7 296.5,186.8 298.5,188.9 300.5,191.3 302.5,193.8 304.5,196.1 306.5,198.1 308.5,200.0 310.5,202.1 312.5,204.4 314.5,206.8 316.5,209.2 318.5,211.5 320.5,213.5 322.5,215.3 324.5,217.0 326.5,218.7 328.5,220.4 330.5,222.3 332.5,224.2 334.5,226.1 336.5,228.0 338.5,229.8 340.5,231.3 342.5,232.8 344.5,234.2 346.5,235.6 348.5,236.9 350.5,238.2 352.5,239.4 354.5,240.6 356.5,241.7 358.5,242.9 360.5,244.1 362.5,245.3 364.5,246.5 366.5,247.7 368.5,248.8 370.5,249.8 372.5,250.7 374.5,251.6 376.5,252.5 378.5,253.2 380.5,253.8 382.5,254.2 384.5,254.7 386.5,255.2 388.5,255.6 390.5,256.0 392.5,256.5 394.5,256.9 396.5,257.3 398.5,257.7 400.5,258.2 402.5,258.7 404.5,259.2 406.5,259.7 408.5,260.4 410.5,261.2 412.5,262.0 414.5,262.8 416.5,263.5 418.5,264.1 420.5,264.6 422.5,265.1 424.5,265.7 426.5,266.2 428.5,266.7 430.5,267.1 432.5,267.5 434.5,267.9 436.5,268.3 438.5,268.7 440.5,269.1 442.5,269.5 444.5,270.0 446.5,270.4 448.5,270.9 450.5,271.5 452.5,272.2 454.5,272.9 456.5,273.9 458.5,275.2 460.5,276.8 462.5,278.5 464.5,280.2 466.5,281.9 468.5,283.6 470.5,285.3 472.5,286.9 474.5,288.4 476.5,289.9 478.5,291.4 480.5,292.8 482.5,294.2 484.5,295.6 486.5,297.0 488.5,298.2 490.5,299.3 492.5,300.3 494.5,301.3 496.5,302.3 498.5,303.3 500.5,304.3 502.5,305.3 504.5,306.3 506.5,307.2 508.5,307.9 510.5,308.4 512.5,308.8 514.5,309.2 516.5,309.5 518.5,309.7 520.5,309.7 522.5,309.7 524.5,309.4 526.5,308.6 528.5,307.4 530.5,306.2 532.5,304.8 534.5,303.2 536.5,301.5 538.5,299.8 540.5,298.2 542.5,296.8 544.5,295.5 546.5,294.2 548.5,292.9 550.5,291.4 552.5,289.8 554.5,288.1 556.5,286.4 558.5,284.7 560.5,283.0 562.5,281.5 564.5,280.0 566.5,278.6 568.5,277.2 570.5,275.8 572.5,274.5 574.5,273.3 576.5,272.2 578.5,271.2 580.5,270.1 582.5,269.1 584.5,268.1 586.5,267.4 588.5,266.8 590.5,266.3 592.5,265.8 594.5,265.2 596.5,264.8 598.5,264.3 600.5,263.9 602.5,263.5 604.5,263.0 606.5,262.6 608.5,262.0 610.5,261.3 612.5,260.5 614.5,259.7 616.5,258.8 618.5,257.8 620.5,256.8 622.5,255.8 624.5,254.8 626.5,253.8 628.5,252.8 630.5,251.7 632.5,250.6 634.5,249.6 636.5,248.6 638.5,247.8 640.5,247.0 642.5,246.3 644.5,245.6 646.5,244.9 648.5,244.2 650.5,243.5 652.5,242.7 654.5,241.9 656.5,241.1 658.5,240.3 660.5,239.5 662.5,238.8 664.5,238.2 666.5,237.6 668.5,237.1 670.5,236.6 672.5,236.1 674.5,235.7 676.5,235.2 678.5,234.7 680.5,234.3 682.5,233.8 684.5,233.4 686.5,232.9 688.5,232.4 690.5,231.9 692.5,231.3 694.5,230.7 696.5,230.1 698.5,229.5 700.5,229.0 702.5,228.6 704.5,228.2 706.5,227.9 708.5,227.5 710.5,227.1 712.5,226.6 714.5,226.1 716.5,225.6 718.5,225.0 720.5,224.5 722.5,223.8 724.5,223.0 726.5,222.2 728.5,221.4 730.5,220.6 732.5,219.9 734.5,219.1 736.5,218.3 738.5,217.6 740.5,217.1 742.5,217.0 744.5,217.2 746.5,217.4 748.5,217.7 750.5,218.0 752.5,218.4 754.5,218.9 756.5,219.2 758.5,219.6 760.5,219.9 762.5,220.1 764.5,220.4 766.5,220.5 768.5,220.5 770.5,220.3 772.5,220.1 774.5,219.9 776.5,219.7 778.5,219.4 780.5,219.2 782.5,219.0 784.5,218.7 786.5,218.4 788.5,218.1 790.5,217.8 792.5,217.4 794.5,217.0 796.5,216.6 798.5,216.1 800.5,215.4 802.5,214.4 804.5,213.1 806.5,211.7 808.5,210.3 810.5,208.9 812.5,207.6 814.5,206.4 816.5,205.3 818.5,204.2 820.5,203.2 822.5,202.1 824.5,201.3 826.5,200.5 828.5,199.8 830.5,199.0 832.5,198.2 834.5,197.4 836.5,196.6 838.5,195.7 840.5,194.8 842.5,193.9 844.5,193.0 846.5,192.1 848.5,191.2 850.5,190.3 852.5,189.4 854.5,188.5 856.5,187.5 858.5,186.6 860.5,185.8 862.5,185.0 864.5,184.3 866.5,183.6 868.5,182.9 870.5,182.4 872.5,181.9 874.5,181.5 876.5,181.1 878.5,180.8 880.5,181.0 882.5,181.6 884.5,182.5 886.5,183.3 888.5,184.1 890.5,184.9 892.5,185.7 894.5,186.5 896.5,187.3 898.5,188.1 900.5,188.8 902.5,189.6 904.5,190.2 906.5,190.8 908.5,191.4 910.5,191.9 912.5,192.3 914.5,192.6 916.5,192.9 918.5,193.1 920.5,193.2 922.5,193.4 924.5,193.5 926.5,193.6 928.5,193.7 930.5,193.8 932.5,194.0 934.5,194.2 936.5,194.5 938.5,194.9 940.5,195.3 942.5,195.7 944.5,196.1 946.5,196.5 948.5,196.7 950.5,196.9 952.5,197.0 954.5,197.0 956.5,196.8 958.5,196.6 960.5,196.4 962.5,196.1 964.5,195.7 966.5,195.3 968.5,194.9 970.5,194.6 971.5,194.5" fill="none" stroke="#2196f3" stroke-width="2" stroke-linejoin="round" stroke-linecap="round"/><line x1="244.2" y1="244.9" x2="1000" y2="109.3" stroke="#eef0f5" stroke-width="1.15"/><line x1="281.5" y1="459.4" x2="1000" y2="224.9" stroke="#eef0f5" stroke-width="1.15"/><path d="M7 178.5H1000" stroke="#26a69a" stroke-width="1" stroke-dasharray="1 2"/></g><g clip-path="url(#rsip)"><polyline points="6.7,509.8 10.1,505.7 14.2,508.4 17.6,507.2 20.9,503.1 24.2,507.6 27.6,507.2 30.6,506.1 34.3,515.5 37.3,512.1 40.3,517.6 44.0,519.5 47.7,524.0 51.4,520.3 54.4,519.5 57.4,517.3 61.1,510.1 64.1,511.6 67.9,511.0 71.3,506.9 74.6,510.6 77.5,508.4 81.3,506.9 85.0,509.8 88.7,513.6 91.3,512.1 95.1,517.6 98.4,515.1 102.1,512.1 105.1,508.4 107.4,500.9 109.2,494.6 111.1,499.4 114.1,499.4 117.1,500.6 119.3,502.4 122.6,502.1 126.0,506.1 129.0,505.4 132.7,508.1 136.0,506.9 139.4,503.6 142.9,509.5 146.1,507.6 149.1,506.6 152.1,508.6 154.3,513.6 156.5,522.1 159.5,524.5 163.2,521.0 166.6,518.5 169.9,519.5 173.6,518.0 177.4,518.8 181.1,519.1 183.3,518.0 186.6,514.8 190.0,518.8 193.8,528.5 197.1,527.0 200.5,529.2 203.9,529.2 207.2,526.2 210.9,519.1 214.6,520.0 217.6,522.1 220.9,524.5 224.3,521.5 227.8,520.6 231.1,514.3 234.5,509.1 237.8,510.6 240.7,511.3 244.5,508.1 248.2,509.1 251.6,508.6 254.6,511.3 257.9,518.8 261.6,527.0 264.6,537.4 268.3,539.4 272.1,541.2 275.5,543.0 278.5,539.7 282.0,545.3 285.5,544.4 288.9,545.6 291.9,543.4 295.2,538.5 298.9,530.4 301.9,530.7 305.9,528.0 309.3,529.5 312.2,533.4 315.7,528.0 319.2,529.5 322.7,526.2 326.1,527.4 329.4,525.5 332.7,525.5 336.1,528.5 339.5,531.5 342.8,521.5 346.5,522.1 350.0,521.0 353.2,521.5 357.0,517.3 360.4,519.5 363.7,522.5 367.4,520.0 370.4,520.0 374.1,515.5 377.9,514.3 380.8,514.0 383.8,511.6 387.2,507.2 390.5,512.5 393.8,510.6 397.2,513.6 401.0,513.6 403.9,512.1 407.7,518.0 411.1,518.8 414.4,518.8 418.1,524.0 421.1,524.5 424.5,521.0 427.8,514.6 431.5,513.6 435.0,516.1 438.2,510.6 441.2,511.3 445.4,515.8 448.4,519.1 451.7,514.3 455.4,518.8 458.4,525.5 461.4,533.0 465.4,538.2 467.2,535.2 470.2,532.2 472.5,531.5 475.7,533.7 479.2,526.0 482.6,526.2 485.9,526.2 489.2,523.6 492.6,526.0 496.0,524.0 499.0,524.8 502.6,516.1 506.5,519.5 509.7,517.3 513.0,511.3 516.4,507.2 519.4,511.3 523.2,512.5 526.4,508.4 529.9,497.2 533.3,490.2 537.3,492.0 540.3,497.9 543.3,496.1 546.7,499.4 550.0,497.9 553.7,492.2 556.7,494.6 560.1,497.2 563.4,500.6 566.7,499.7 570.1,503.9 573.6,503.6 577.1,506.9 580.6,503.6 584.3,503.1 587.6,512.8 591.5,514.0 594.7,513.1 597.7,510.1 601.4,511.3 605.2,511.3 608.5,509.8 611.9,507.2 614.9,506.9 618.6,502.4 622.2,501.6 625.2,500.6 628.2,501.6 631.6,497.9 634.9,507.6 638.6,508.4 642.1,512.5 645.4,508.4 648.6,505.7 652.1,506.6 655.8,503.1 659.1,505.4 662.5,504.2 666.2,508.6 669.5,511.6 672.5,511.0 675.9,506.9 679.4,509.8 682.6,512.5 685.9,515.1 689.3,509.8 693.1,508.1 697.2,504.2 700.5,506.1 703.8,509.1 707.2,510.1 710.2,510.6 713.6,510.1 716.9,507.2 719.9,509.1 723.6,500.9 727.1,501.6 730.3,500.6 733.3,499.7 737.1,499.4 740.5,500.1 742.0,509.1 743.5,524.0 746.8,523.6 750.0,526.2 753.9,528.5 756.9,523.0 760.5,527.4 763.5,519.5 766.9,517.6 771.4,517.3 774.3,506.1 777.7,511.0 781.3,510.6 784.7,512.5 788.1,509.5 791.4,511.0 794.4,512.1 797.7,506.9 801.5,503.6 804.8,493.1 808.1,491.2 811.5,493.4 814.5,497.6 817.9,497.2 821.5,499.7 825.0,502.1 828.7,505.1 832.4,504.2 835.4,504.6 838.8,501.6 842.1,501.6 845.8,498.2 849.3,503.1 852.2,507.6 855.8,502.4 859.3,504.2 862.2,504.2 866.0,508.4 869.2,509.5 872.7,509.5 876.4,506.1 880.1,510.6 881.6,520.3 883.1,531.9 886.5,530.4 889.5,531.9 892.8,531.0 896.1,530.7 899.1,530.4 902.8,531.9 906.8,519.8 910.2,521.7 913.6,520.6 917.0,522.4 920.4,514.1 923.8,515.6 927.2,515.3 930.6,515.8 933.7,514.7 937.4,520.9 940.8,524.9 944.2,526.6 947.3,517.9 951.0,516.1 954.4,513.4 957.8,510.7 961.2,511.5 964.6,501.7 968.0,506.8 971.6,506.2" fill="none" stroke="#f86a12" stroke-width="1.3" stroke-linejoin="round"/></g><path d="M6.5 43V582 M6 43.5H1067 M1066.5 43V582 M6 581.5H1067 M1000.5 43V582 M6 482.5H1067 M6 552.5H1067" stroke="#5d606b" stroke-width="1" fill="none"/><path d="M1001 474.5h4 M1001 442.5h4 M1001 409.5h4 M1001 377.5h4 M1001 345.5h4 M1001 313.5h4 M1001 280.5h4 M1001 248.5h4 M1001 216.5h4 M1001 184.5h4 M1001 152.5h4 M1001 119.5h4 M1001 87.5h4 M1001 55.5h4" stroke="#5d606b" stroke-width="1"/><g clip-path="url(#mainax)" font-family="Liberation Sans, sans-serif" font-size="12.2" fill="#b2b5be" stroke="#b2b5be" stroke-width="0.25"><text x="1009.8" y="478.7" textLength="41.3" lengthAdjust="spacingAndGlyphs">9900.00</text><text x="1009.8" y="446.7" textLength="47.2" lengthAdjust="spacingAndGlyphs">10000.00</text><text x="1009.8" y="413.7" textLength="47.2" lengthAdjust="spacingAndGlyphs">10100.00</text><text x="1009.8" y="381.7" textLength="47.2" lengthAdjust="spacingAndGlyphs">10200.00</text><text x="1009.8" y="349.7" textLength="47.2" lengthAdjust="spacingAndGlyphs">10300.00</text><text x="1009.8" y="317.7" textLength="47.2" lengthAdjust="spacingAndGlyphs">10400.00</text><text x="1009.8" y="284.7" textLength="47.2" lengthAdjust="spacingAndGlyphs">10500.00</text><text x="1009.8" y="252.7" textLength="47.2" lengthAdjust="spacingAndGlyphs">10600.00</text><text x="1009.8" y="220.7" textLength="47.2" lengthAdjust="spacingAndGlyphs">10700.00</text><text x="1009.8" y="188.7" textLength="47.2" lengthAdjust="spacingAndGlyphs">10800.00</text><text x="1009.8" y="156.7" textLength="47.2" lengthAdjust="spacingAndGlyphs">10900.00</text><text x="1009.8" y="123.7" textLength="47.2" lengthAdjust="spacingAndGlyphs">11000.00</text><text x="1009.8" y="91.7" textLength="47.2" lengthAdjust="spacingAndGlyphs">11100.00</text><text x="1009.8" y="59.7" textLength="47.2" lengthAdjust="spacingAndGlyphs">11200.00</text></g><path d="M1001 485.5h4M1001 523.5h4" stroke="#5d606b" stroke-width="1"/><g clip-path="url(#rsiax)" font-family="Liberation Sans, sans-serif" font-size="12.2" fill="#b2b5be" stroke="#b2b5be" stroke-width="0.25"><text x="1009.8" y="490" textLength="29.5" lengthAdjust="spacingAndGlyphs">80.00</text><text x="1009.8" y="527.6" textLength="29.5" lengthAdjust="spacingAndGlyphs">40.00</text></g><rect x="1017.5" y="50.5" width="31" height="19" rx="4" fill="#131722" stroke="#4a3f55" stroke-width="1"/><text x="1022.5" y="62.9" font-family="Liberation Sans, sans-serif" font-size="12.2" fill="#b2b5be" stroke="#b2b5be" stroke-width="0.2" textLength="20.5" lengthAdjust="spacingAndGlyphs">USD</text><rect x="1000" y="169" width="66" height="19" fill="#26a69a"/><path d="M1000 178.5h4" stroke="#ffffff" stroke-width="1"/><text x="1009.8" y="182.8" font-family="Liberation Sans, sans-serif" font-size="12" fill="#ffffff" stroke="#ffffff" stroke-width="0.3" textLength="47.9" lengthAdjust="spacingAndGlyphs">10818.44</text><rect x="1024" y="189" width="42" height="19" fill="#26a69a"/><text x="1028" y="202.7" font-family="Liberation Sans, sans-serif" font-size="12" fill="#ffffff" stroke="#ffffff" stroke-width="0.3" textLength="30.1" lengthAdjust="spacingAndGlyphs">24:57</text><path d="M71.5 553v4 M152.5 553v4 M234.5 553v4 M315.5 553v4 M397.5 553v4 M478.5 553v4 M560.5 553v4 M641.5 553v4 M723.5 553v4 M804.5 553v4 M886.5 553v4 M968.5 553v4" stroke="#5d606b" stroke-width="1"/><g font-family="Liberation Sans, sans-serif" font-size="12.4" fill="#b2b5be" stroke="#b2b5be" stroke-width="0.3"><text x="65.9" y="572.3" textLength="11.6" lengthAdjust="spacingAndGlyphs">19</text><text x="146.9" y="572.3" textLength="11.6" lengthAdjust="spacingAndGlyphs">20</text><text x="228.9" y="572.3" textLength="11.6" lengthAdjust="spacingAndGlyphs">21</text><text x="309.9" y="572.3" textLength="11.6" lengthAdjust="spacingAndGlyphs">22</text><text x="391.9" y="572.3" textLength="11.6" lengthAdjust="spacingAndGlyphs">23</text><text x="472.9" y="572.3" textLength="11.6" lengthAdjust="spacingAndGlyphs">24</text><text x="554.9" y="572.3" textLength="11.6" lengthAdjust="spacingAndGlyphs">25</text><text x="635.9" y="572.3" textLength="11.6" lengthAdjust="spacingAndGlyphs">26</text><text x="717.9" y="572.3" textLength="11.6" lengthAdjust="spacingAndGlyphs">27</text><text x="798.9" y="572.3" textLength="11.6" lengthAdjust="spacingAndGlyphs">28</text><text x="880.9" y="572.3" textLength="11.6" lengthAdjust="spacingAndGlyphs">29</text><text x="962.9" y="572.3" textLength="11.6" lengthAdjust="spacingAndGlyphs">30</text></g><g font-family="Liberation Sans, sans-serif" font-size="12" fill="#999ca5"><text x="15.4" y="64.7" font-weight="bold" textLength="201.6" lengthAdjust="spacingAndGlyphs">Bitcoin / U.S. Dollar, 1h, COINBASE</text><text x="15.4" y="81.9">Vol</text><text x="15.4" y="99" textLength="100.4" lengthAdjust="spacingAndGlyphs">EMA (50, close, 0)</text><text x="15.4" y="116.2" textLength="107.2" lengthAdjust="spacingAndGlyphs">EMA (100, close, 0)</text><text x="15.5" y="503.6" textLength="77" lengthAdjust="spacingAndGlyphs">RSI (14, close)</text></g><g font-family="Liberation Sans, sans-serif" font-size="12" fill="#e9ebf0" stroke="#e9ebf0" stroke-width="0.2"><text x="6.7" y="16.8" font-weight="bold" textLength="56.1" lengthAdjust="spacingAndGlyphs">CoinGape</text><text x="66.1" y="16.8" textLength="371.5" lengthAdjust="spacingAndGlyphs">published on TradingView.com, September 30, 2020 01:35:06 UTC</text><text x="6.7" y="33.4" font-weight="bold" textLength="129.9" lengthAdjust="spacingAndGlyphs">COINBASE:BTCUSD, 60</text><text x="143.6" y="33.4" textLength="51" lengthAdjust="spacingAndGlyphs">10818.44</text><path d="M198 25.5h8.4l-4.2 7.6z" fill="#ef5350"/><text x="212" y="33.4" textLength="91.7" lengthAdjust="spacingAndGlyphs">−22.29 (−0.21%)</text><text x="307.4" y="33.4" font-weight="bold" textLength="13.4" lengthAdjust="spacingAndGlyphs">O:</text><text x="322.8" y="33.4" fill="#ef5350" stroke="#ef5350" textLength="51.7" lengthAdjust="spacingAndGlyphs">10810.14</text><text x="379.9" y="33.4" font-weight="bold" textLength="10.7" lengthAdjust="spacingAndGlyphs">H:</text><text x="393.3" y="33.4" fill="#ef5350" stroke="#ef5350" textLength="51.7" lengthAdjust="spacingAndGlyphs">10824.91</text><text x="450.3" y="33.4" font-weight="bold" textLength="9.1" lengthAdjust="spacingAndGlyphs">L:</text><text x="461.7" y="33.4" fill="#ef5350" stroke="#ef5350" textLength="51.7" lengthAdjust="spacingAndGlyphs">10801.66</text><text x="518.5" y="33.4" font-weight="bold" textLength="10.4" lengthAdjust="spacingAndGlyphs">C:</text><text x="530.9" y="33.4" fill="#ef5350" stroke="#ef5350" textLength="51.7" lengthAdjust="spacingAndGlyphs">10818.44</text></g><g fill="#2196f3"><circle cx="10.2" cy="602.6" r="4.3"/><circle cx="16.6" cy="598.6" r="6.7"/><circle cx="26.6" cy="601.3" r="5.5"/><rect x="10" y="600" width="17" height="6.9"/></g><path d="M6.6 604.6L15.6 597.6L22.2 603.3L28.3 596.3" stroke="#131722" stroke-width="1.2" fill="none"/><circle cx="15.6" cy="597.6" r="1.8" fill="#131722"/><circle cx="22.2" cy="603.3" r="1.8" fill="#131722"/><text x="34.9" y="604" font-family="Liberation Sans, sans-serif" font-size="12.1" fill="#e8eaef" textLength="69.7" lengthAdjust="spacingAndGlyphs">TradingView</text></svg>
</body></html>
